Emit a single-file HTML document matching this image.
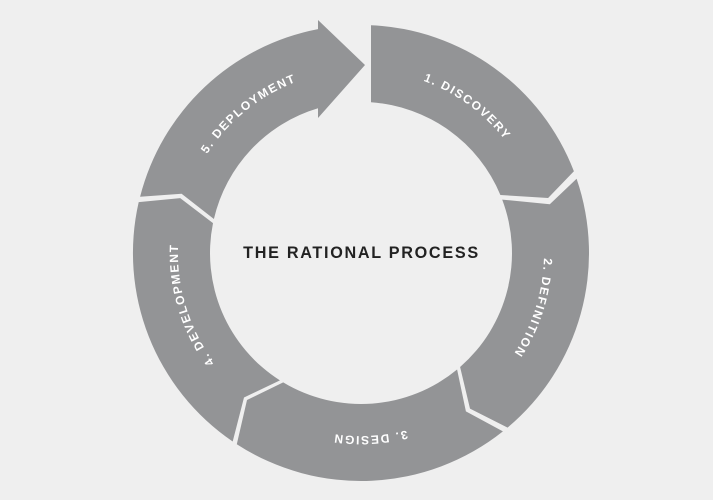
<!DOCTYPE html>
<html><head><style>
html,body{margin:0;padding:0;background:#efefef;}
svg{display:block;}
</style></head><body>
<svg width="713" height="500" viewBox="0 0 713 500" xmlns="http://www.w3.org/2000/svg">
<rect width="713" height="500" fill="#efefef"/>
<g fill="#939496">
<path d="M371,25.2 A228 228 0 0 1 573.9,171.3 L548.1,198 L500.4,195 A151 151 0 0 0 371,102.3 Z"/>
<path d="M576.6,178.8 A228 228 0 0 1 507.6,427.6 L470,408.6 L460.1,367 A151 151 0 0 0 502.2,199.6 L549.8,204.2 Z"/>
<path d="M502.9,431.4 A228 228 0 0 1 236.8,444.2 L247,400 L283.2,382.4 A151 151 0 0 0 457.1,369.5 L465.9,411.4 Z"/>
<path d="M232.7,441.5 A228 228 0 0 1 138.7,202.1 L180.2,198.1 L213,223.1 A151 151 0 0 0 279.9,380.4 L244,397.5 Z"/>
<path d="M140.1,196.7 A228 228 0 0 1 318,29.1 L318,20 L365,65 L318,118 L318,108.3 A151 151 0 0 0 213.9,219 L181.6,193.7 Z"/>
</g>
<defs>
<path id="c" d="M544,253 A183 183 0 1 1 178,253 A183 183 0 1 1 544,253"/>
</defs>
<g fill="#ffffff" font-family="Liberation Sans, sans-serif" font-weight="bold" font-size="12" letter-spacing="1.6" text-anchor="middle">
<text><textPath href="#c" startOffset="85%">1. DISCOVERY</textPath></text>
<text><textPath href="#c" startOffset="4.9%">2. DEFINITION</textPath></text>
<text><textPath href="#c" startOffset="24.2%">3. DESIGN</textPath></text>
<text><textPath href="#c" startOffset="45.3%">4. DEVELOPMENT</textPath></text>
<text><textPath href="#c" startOffset="64.2%">5. DEPLOYMENT</textPath></text>
</g>
<text x="361.5" y="258" text-anchor="middle" font-family="Liberation Sans, sans-serif" font-weight="bold" font-size="16.2" letter-spacing="1.7" fill="#222">THE RATIONAL PROCESS</text>
</svg>
</body></html>
